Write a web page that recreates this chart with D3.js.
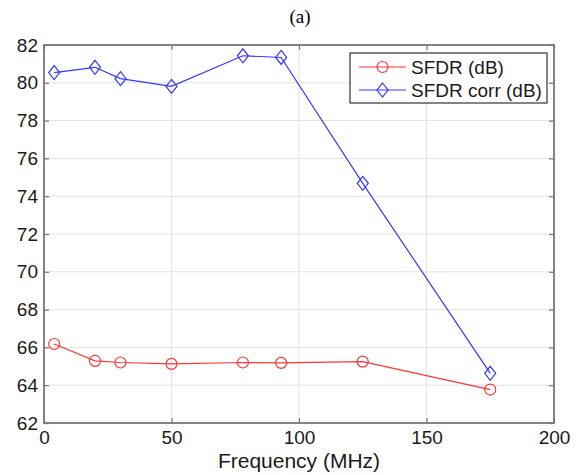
<!DOCTYPE html>
<html>
<head>
<meta charset="utf-8">
<script src="https://cdn.jsdelivr.net/npm/d3@7"></script>
<style>
  body { margin: 0; background: #fff; }
  svg { display: block; }
</style>
</head>
<body>
<svg id="chart" width="581" height="475"></svg>
<script>
// data
const freq = [4, 20, 30, 50, 78, 93, 125, 175];
const sfdr = [66.18, 65.29, 65.2, 65.13, 65.2, 65.18, 65.25, 63.77];
const sfdrCorr = [80.54, 80.82, 80.22, 79.81, 81.43, 81.34, 74.68, 64.63];
const xTicks = [0, 50, 100, 150, 200];
const yTicks = [62, 64, 66, 68, 70, 72, 74, 76, 78, 80, 82];
const seriesNames = ["SFDR (dB)", "SFDR corr (dB)"];

const svg = d3.select("#chart");
const plotLeft = 44, plotRight = 554, plotTop = 45, plotBottom = 423;

const x = d3.scaleLinear().domain([0, 200]).range([plotLeft, plotRight]);
const y = d3.scaleLinear().domain([62, 82]).range([plotBottom, plotTop]);

const font = "'Liberation Sans', Arial, sans-serif";

// title
svg.append("text")
    .attr("x", 300).attr("y", 23)
    .attr("text-anchor", "middle")
    .style("font-family", "'Liberation Serif', 'Times New Roman', serif")
    .style("font-size", "19px")
    .text("(a)");

// grid
svg.append("g").selectAll("line")
    .data(xTicks.slice(1, -1))
    .enter().append("line")
    .attr("x1", d => x(d)).attr("x2", d => x(d))
    .attr("y1", plotTop).attr("y2", plotBottom)
    .style("stroke", "#e3e3e3").style("stroke-width", 1);

svg.append("g").selectAll("line")
    .data(yTicks.slice(1, -1))
    .enter().append("line")
    .attr("x1", plotLeft).attr("x2", plotRight)
    .attr("y1", d => y(d)).attr("y2", d => y(d))
    .style("stroke", "#e3e3e3").style("stroke-width", 1);

// axes with inward ticks on all four sides
function styleAxis(g) {
    g.select(".domain").remove();
    g.selectAll(".tick line").style("stroke", "#777").style("stroke-width", 1.2);
    g.selectAll(".tick text")
        .style("font-family", font)
        .style("font-size", "19px")
        .style("fill", "#1a1a1a");
}

svg.append("g")
    .attr("transform", `translate(0,${plotBottom})`)
    .call(d3.axisBottom(x).tickValues(xTicks).tickSizeInner(-5).tickSizeOuter(0).tickPadding(8).tickFormat(d3.format("d")))
    .call(styleAxis);

svg.append("g")
    .attr("transform", `translate(0,${plotTop})`)
    .call(d3.axisTop(x).tickValues(xTicks).tickSizeInner(-5).tickSizeOuter(0).tickFormat(""))
    .call(styleAxis);

svg.append("g")
    .attr("transform", `translate(${plotLeft},0)`)
    .call(d3.axisLeft(y).tickValues(yTicks).tickSizeInner(-5).tickSizeOuter(0).tickPadding(6).tickFormat(d3.format("d")))
    .call(styleAxis);

svg.append("g")
    .attr("transform", `translate(${plotRight},0)`)
    .call(d3.axisRight(y).tickValues(yTicks).tickSizeInner(-5).tickSizeOuter(0).tickFormat(""))
    .call(styleAxis);

// axis box
svg.append("rect")
    .attr("x", plotLeft).attr("y", plotTop)
    .attr("width", plotRight - plotLeft).attr("height", plotBottom - plotTop)
    .style("fill", "none").style("stroke", "#777").style("stroke-width", 1.8);

// x label
svg.append("text")
    .attr("x", (plotLeft + plotRight) / 2).attr("y", 468)
    .attr("text-anchor", "middle")
    .style("font-family", font)
    .style("font-size", "21px")
    .style("fill", "#1a1a1a")
    .text("Frequency (MHz)");

const red = "#ff3535", blue = "#3535ff";
const line = d3.line().x(d => x(d[0])).y(d => y(d[1]));
const redPts = freq.map((f, i) => [f, sfdr[i]]);
const bluePts = freq.map((f, i) => [f, sfdrCorr[i]]);

function diamond(cx, cy) {
    return `M${cx},${cy - 7}L${cx + 5.5},${cy}L${cx},${cy + 7}L${cx - 5.5},${cy}Z`;
}

svg.append("path").datum(redPts).attr("d", line)
    .style("fill", "none").style("stroke", red).style("stroke-width", 1.2);
svg.append("path").datum(bluePts).attr("d", line)
    .style("fill", "none").style("stroke", blue).style("stroke-width", 1.2);

svg.selectAll("circle.red")
    .data(redPts)
    .enter().append("circle")
    .attr("class", "red")
    .attr("cx", d => x(d[0])).attr("cy", d => y(d[1]))
    .attr("r", 5.5)
    .style("fill", "none").style("stroke", red).style("stroke-width", 1.2);

svg.selectAll("path.blue")
    .data(bluePts)
    .enter().append("path")
    .attr("class", "blue")
    .attr("d", d => diamond(x(d[0]), y(d[1])))
    .style("fill", "none").style("stroke", blue).style("stroke-width", 1.2);

// legend
const lg = svg.append("g");
lg.append("rect")
    .attr("x", 350).attr("y", 53).attr("width", 197).attr("height", 50)
    .style("fill", "#fff").style("stroke", "#333").style("stroke-width", 1.2);

const rows = [
    { name: seriesNames[0], color: red, y: 67, marker: "circle" },
    { name: seriesNames[1], color: blue, y: 90, marker: "diamond" }
];
rows.forEach(r => {
    lg.append("line")
        .attr("x1", 359).attr("x2", 406).attr("y1", r.y).attr("y2", r.y)
        .style("stroke", r.color).style("stroke-width", 1.2);
    if (r.marker === "circle") {
        lg.append("circle").attr("cx", 382.5).attr("cy", r.y).attr("r", 5.5)
            .style("fill", "none").style("stroke", r.color).style("stroke-width", 1.2);
    } else {
        lg.append("path").attr("d", diamond(382.5, r.y))
            .style("fill", "none").style("stroke", r.color).style("stroke-width", 1.2);
    }
    lg.append("text")
        .attr("x", 411).attr("y", r.y)
        .attr("dy", "0.36em")
        .style("font-family", font)
        .style("font-size", "19px")
        .style("fill", "#1a1a1a")
        .text(r.name);
});
</script>
</body>
</html>
